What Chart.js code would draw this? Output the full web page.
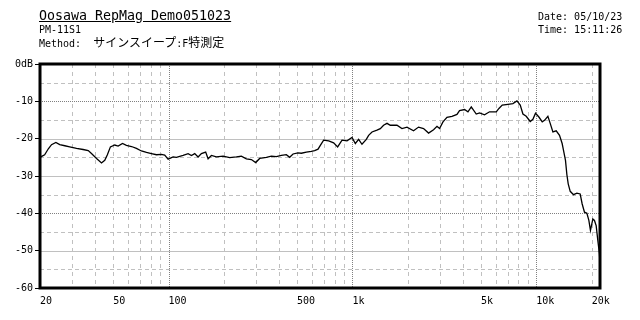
<!DOCTYPE html>
<html>
<head>
<meta charset="utf-8">
<script src="https://cdn.jsdelivr.net/npm/chart.js@4/dist/chart.umd.min.js"></script>
<style>
  html, body { margin: 0; padding: 0; background: #fff; }
  #wrap { position: relative; width: 640px; height: 320px; overflow: hidden; }
  canvas { position: absolute; left: 0; top: 0; }
  .t { position: absolute; white-space: pre; color: #000; font-family: "DejaVu Sans Mono", monospace; line-height: 1; }
  .jp { font-family: "Noto Sans CJK JP", sans-serif; font-size: 12px; }
</style>
</head>
<body>
<div id="wrap">
  <canvas id="c" width="640" height="320"></canvas>
  <div class="t" style="left:39px; top:8.6px; font-size:13.3px; text-decoration:underline;">Oosawa RepMag Demo051023</div>
  <div class="t" style="left:39px; top:24.5px; font-size:10px;">PM-11S1</div>
  <div class="t" style="left:39px; top:36px; font-size:10px;">Method:  <span class="jp">サインスイープ</span>:F<span class="jp">特測定</span></div>
  <div class="t" style="left:538px; top:12px; font-size:10px;">Date: 05/10/23</div>
  <div class="t" style="left:538px; top:24.5px; font-size:10px;">Time: 15:11:26</div>
</div>
<script>
// ---- data (frequency in Hz, level in dB) ----
const freqHz = [
  20, 21.2, 22.2, 23.1, 24.4, 25.6, 27.3, 29.0, 31.6, 34.3,
  36.6, 38.1, 40.6, 43.2, 45.0, 46.5, 48.3, 51.0, 53.2, 56.2,
  59.0, 62.9, 66.9, 71.2, 75.9, 80.7, 86.0, 91.5, 95.3, 99.5,
  105.9, 110.4,
  120, 127.8, 133.2, 138.8, 144.8, 150.9, 159.2, 164.1, 171.1, 182.1,
  198.1, 215.1, 233.9, 248.9, 265.0, 282.1, 297.8, 313.1, 340.4, 362.4,
  385.8, 410.8, 437.2, 455.7, 475.5, 506.1, 527.5, 561.6, 597.8, 623.1,
  650.2, 669.2, 697.4,
  742.4, 790.3, 830.9, 878, 934.6, 995, 1037, 1081, 1127, 1190,
  1225, 1278, 1360, 1418, 1477, 1542, 1607, 1747, 1860, 1981,
  2150, 2289, 2437, 2595, 2762, 2883, 2978, 3108, 3267, 3478,
  3703,
  3824, 4072, 4249, 4429, 4714, 4913, 5229, 5567, 6055, 6263,
  6526, 7008, 7461, 7845, 8177, 8457, 8813, 9266, 9583, 9900,
  10330, 10770, 11080, 11560, 11900, 12310, 12830, 13370, 13820, 14050,
  14410, 14660, 14910, 15290, 15930, 16620, 17320, 17760, 18280, 18840,
  19310, 19700, 20300, 20710, 21160, 21610, 22050, 22150
];
const levelDb = [
  -25.0, -24.3, -22.7, -21.6, -21.0, -21.6, -21.9, -22.2, -22.6, -22.9,
  -23.2, -24.0, -25.3, -26.5, -25.8, -24.3, -22.2, -21.7, -22.0, -21.3,
  -21.8, -22.1, -22.6, -23.3, -23.7, -24.0, -24.3, -24.2, -24.4, -25.5,
  -24.9, -25.0,
  -24.5, -24.0, -24.5, -24.0, -24.9, -24.0, -23.6, -25.4, -24.5, -24.9,
  -24.7, -25.1, -24.9, -24.7, -25.4, -25.6, -26.4, -25.3, -25.0, -24.7,
  -24.8, -24.5, -24.3, -25.0, -24.1, -23.8, -23.9, -23.6, -23.4, -23.2,
  -22.8, -21.8, -20.4,
  -20.6, -21.1, -22.2, -20.4, -20.6, -19.7, -21.3, -20.2, -21.5, -20.2,
  -19.1, -18.2, -17.7, -17.3, -16.4, -15.9, -16.4, -16.4, -17.3, -16.9,
  -17.9, -16.9, -17.3, -18.5, -17.6, -16.7, -17.3, -15.5, -14.3, -14.0,
  -13.5,
  -12.5, -12.2, -12.8, -11.5, -13.4, -13.1, -13.6, -12.8, -12.8, -11.9,
  -11.0, -10.8, -10.6, -9.9, -11.0, -13.4, -14.0, -15.4, -14.8, -13.2,
  -14.2, -15.5, -15.1, -14.0, -15.9, -18.2, -17.9, -19.1, -21.3, -23.1,
  -25.8, -29.6, -32.1, -34.1, -35.0, -34.6, -34.8, -37.5, -39.7, -40.0,
  -41.9, -44.6, -41.5, -41.9, -43.3, -47.3, -50.9, -52.7
];

// ---- axis ticks / labels ----
const xMin = 20, xMax = 22200;
const xLabelTicks = [20, 50, 100, 500, 1000, 5000, 10000, 20000];
const xLabelText = ['20', '50', '100', '500', '1k', '5k', '10k', '20k'];
const xDottedGrid = [100, 1000, 10000];
const xDashedGrid = [30, 40, 50, 60, 70, 80, 90, 200, 300, 400, 500, 600, 700, 800, 900,
                     2000, 3000, 4000, 5000, 6000, 7000, 8000, 9000, 20000];
const yMin = -60, yMax = 0;
const yTicks = [-60, -50, -40, -30, -20, -10, 0];
const yLabelText = ['-60', '-50', '-40', '-30', '-20', '-10', '0dB'];
const yDottedGrid = [-10, -40];
const ySolidGrid = [-20, -30, -50];
const yDashedGrid = [-5, -15, -25, -35, -45, -55];

const tickFont = { family: '"DejaVu Sans Mono", monospace', size: 10 };

const gridPlugin = {
  id: 'customGrid',
  beforeDatasetsDraw(chart) {
    const { ctx, chartArea: a, scales: { x, y } } = chart;
    ctx.save();
    ctx.beginPath();
    ctx.rect(a.left, a.top, a.right - a.left, a.bottom - a.top);
    ctx.clip();
    ctx.lineWidth = 1;
    const vline = (v, color, dash) => {
      const px = Math.round(x.getPixelForValue(v)) + 0.5;
      ctx.strokeStyle = color; ctx.setLineDash(dash);
      ctx.beginPath(); ctx.moveTo(px, a.top); ctx.lineTo(px, a.bottom); ctx.stroke();
    };
    const hline = (v, color, dash) => {
      const py = Math.round(y.getPixelForValue(v)) + 0.5;
      ctx.strokeStyle = color; ctx.setLineDash(dash);
      ctx.beginPath(); ctx.moveTo(a.left, py); ctx.lineTo(a.right, py); ctx.stroke();
    };
    yDashedGrid.forEach(v => hline(v, '#c0c0c0', [4, 3]));
    ySolidGrid.forEach(v => hline(v, '#c0c0c0', []));
    xDashedGrid.forEach(v => vline(v, '#c0c0c0', [4, 4]));
    xDottedGrid.forEach(v => vline(v, '#808080', [1, 1]));
    yDottedGrid.forEach(v => hline(v, '#808080', [1, 1]));
    ctx.restore();
  },
  afterDraw(chart) {
    const { ctx, chartArea: a } = chart;
    ctx.save();
    ctx.strokeStyle = '#000';
    ctx.lineWidth = 3;
    ctx.setLineDash([]);
    ctx.strokeRect(a.left, a.top, a.right - a.left, a.bottom - a.top);
    ctx.restore();
  }
};

new Chart(document.getElementById('c'), {
  type: 'line',
  data: {
    datasets: [{
      data: freqHz.map((f, i) => ({ x: f, y: levelDb[i] })),
      borderColor: '#000',
      borderWidth: 1.3,
      pointRadius: 0,
      tension: 0,
      fill: false
    }]
  },
  options: {
    responsive: false,
    animation: false,
    devicePixelRatio: 1,
    layout: { padding: { top: 64, right: 40, left: 0, bottom: 0 } },
    plugins: { legend: { display: false }, tooltip: { enabled: false }, title: { display: false } },
    scales: {
      x: {
        type: 'logarithmic',
        min: xMin, max: xMax,
        afterBuildTicks: s => { s.ticks = xLabelTicks.map(v => ({ value: v })); },
        afterFit: s => { s.height = 32; },
        ticks: {
          autoSkip: false, maxRotation: 0, minRotation: 0, align: 'start',
          padding: 3, color: '#000', font: tickFont,
          callback: (v, i) => xLabelText[i]
        },
        grid: { drawOnChartArea: false, drawTicks: true, tickLength: 4, tickColor: 'rgba(0,0,0,0)' },
        border: { display: false }
      },
      y: {
        type: 'linear',
        min: yMin, max: yMax,
        afterBuildTicks: s => { s.ticks = yTicks.map(v => ({ value: v })); },
        afterFit: s => { s.width = 40; },
        ticks: { padding: 2, color: '#000', font: tickFont, callback: (v, i) => yLabelText[i] },
        grid: { drawOnChartArea: false, drawTicks: true, tickLength: 5, tickColor: '#000', tickWidth: 1 },
        border: { display: false }
      }
    }
  },
  plugins: [gridPlugin]
});
</script>
</body>
</html>
